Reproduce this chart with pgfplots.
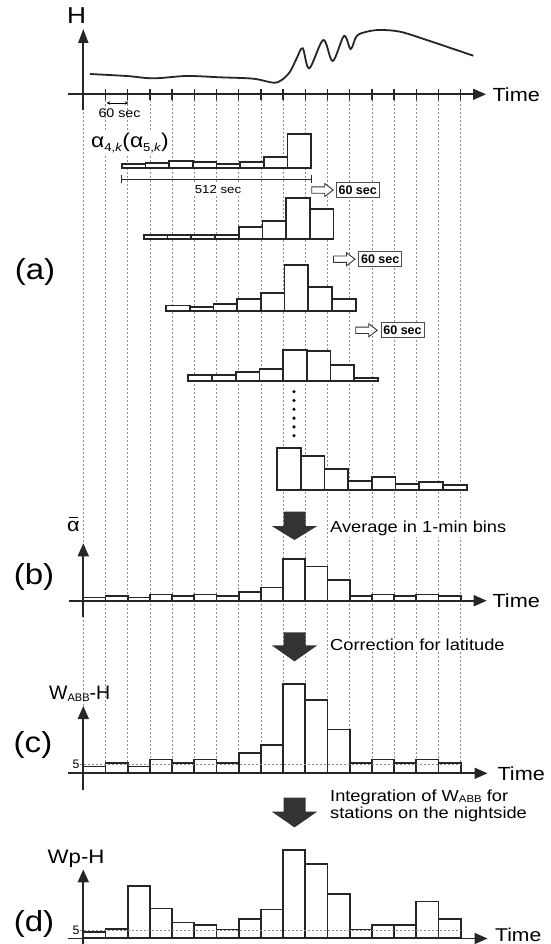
\documentclass[border=0pt]{standalone}
\usepackage{pgfplots}
\pgfplotsset{compat=1.18}
\usepackage{graphicx}
\usepackage{fontspec}
\setmainfont{Liberation Sans}
\usetikzlibrary{arrows.meta}

\newcommand{\fs}[1]{\fontsize{#1}{#1}\selectfont}
\newcommand{\sx}[1]{\scalebox{1.14}[1]{#1}}

\pgfplotsset{
  hist/.style={hide axis, x=1pt, y=1pt, anchor=south west, clip=false, ymin=0, enlargelimits=false},
  hb/.style={ybar interval, fill=white, draw=black!85, line width=1.7pt},
}
\tikzset{
  ax/.style={line width=1.8pt, black!85, -{Triangle[length=13pt,width=11pt]}},
}
\newcommand\blk[3]{\fill[black!80] (283.5,#1) -- (305.5,#1) -- (305.5,#2) -- (317.3,#2) -- (294.5,#3) -- (271.7,#2) -- (283.5,#2) -- cycle;}
\newcommand\harr[2]{\draw[line width=0.9pt, black!80, fill=white, line join=miter] (#1,{#2-3.2}) -- ({#1+13},{#2-3.2}) -- ({#1+13},{#2-6.5}) -- ({#1+21.5},#2) -- ({#1+13},{#2+6.5}) -- ({#1+13},{#2+3.2}) -- (#1,{#2+3.2}) -- cycle;}
\newcommand\secbox[2]{\node[draw=black!70, line width=0.9pt, fill=white, minimum width=43pt, minimum height=15pt, inner sep=0pt, font=\fs{12.5}\bfseries] at (#1,#2) {60 sec};}

\begin{document}
\begin{tikzpicture}
\path[use as bounding box] (0pt,0pt) rectangle (550pt,-944pt);

% vertical dashed guide lines
\begin{scope}[x=1pt,y=-1pt]
\foreach \k in {0,...,17}{\draw[black!45, dash pattern=on 2pt off 2pt, line width=0.6pt] ({83.3+22.2*\k},100) -- ({83.3+22.2*\k},773);}
\end{scope}

% main frame: H trace and dots
\begin{axis}[at={(0pt,0pt)}, anchor=north west, scale only axis, width=550pt, height=944pt,
  xmin=0, xmax=550, ymin=0, ymax=944, y dir=reverse, hide axis, clip=false]
\addplot[smooth, tension=0.55, line width=1.8pt, black!85] coordinates {
 (90,74) (126.7,76) (153.3,78.3) (186.7,76) (220,77.3) (253.3,78.7) (273.3,82.7) (281.7,80)
 (290,71.7) (296.7,58.3) (302.7,48.3) (309.3,68.3) (323.3,40) (332.7,61) (344,36) (350.7,49)
 (356.7,36) (366.7,31.7) (380,30) (400,31.7) (426.7,40) (473.3,55.7)};
\addplot[only marks, mark=*, mark size=1.4pt, black] coordinates {
 (294,391.7) (294,400.5) (294,409.3) (294,418.1) (294,426.9) (294,435.7)};
\end{axis}

% (a) running histograms
\begin{axis}[hist, at={(121.7pt,-167.7pt)}, xmin=121.7, xmax=311.3, ymax=36]
\addplot[hb] coordinates {(121.7,3.4)(145.4,5)(169.1,6.7)(192.8,5.4)(216.5,3.7)(240.2,5.4)(263.9,11)(287.6,33.4)(311.3,33.4)};
\end{axis}
\begin{axis}[hist, at={(143.9pt,-239pt)}, xmin=143.9, xmax=333.5, ymax=43]
\addplot[hb] coordinates {(143.9,4)(167.6,4)(191.3,4)(215,4)(238.7,11.7)(262.4,18)(286.1,40.7)(309.8,29.7)(333.5,29.7)};
\end{axis}
\begin{axis}[hist, at={(166.1pt,-310.7pt)}, xmin=166.1, xmax=355.7, ymax=48]
\addplot[hb] coordinates {(166.1,5.3)(189.8,3.4)(213.5,6.4)(237.2,11.7)(260.9,18)(284.6,45.7)(308.3,24)(332,11.4)(355.7,11.4)};
\end{axis}
\begin{axis}[hist, at={(188.3pt,-381pt)}, xmin=188.3, xmax=377.9, ymax=33]
\addplot[hb] coordinates {(188.3,6)(212,6)(235.7,9)(259.4,12.3)(283.1,31)(306.8,29.7)(330.5,16.3)(354.2,3)(377.9,3)};
\end{axis}
\begin{axis}[hist, at={(277.1pt,-490pt)}, xmin=277.1, xmax=466.7, ymax=44]
\addplot[hb] coordinates {(277.1,41.7)(300.8,34.3)(324.5,21)(348.2,9)(371.9,13.3)(395.6,5.7)(419.3,7.7)(443,5)(466.7,5)};
\end{axis}

% (b) averaged
\begin{axis}[hist, at={(83.3pt,-600.5pt)}, xmin=83.3, xmax=460.7, ymax=44]
\addplot[hb] coordinates {(83.3,3)(105.5,4.7)(127.7,3)(149.9,6)(172.1,4.3)(194.3,6)(216.5,4.3)(238.7,8.7)(260.9,13)(283.1,41.3)(305.3,34)(327.5,20.7)(349.7,4.3)(371.9,6)(394.1,4.3)(416.3,6)(438.5,4.3)(460.7,4.3)};
\end{axis}
% (c) W_ABB-H
\begin{axis}[hist, at={(83.3pt,-773pt)}, xmin=83.3, xmax=460.7, ymax=92]
\addplot[hb] coordinates {(83.3,6.5)(105.5,10)(127.7,6.5)(149.9,13.4)(172.1,10)(194.3,13.4)(216.5,10)(238.7,19.7)(260.9,27.8)(283.1,89)(305.3,73)(327.5,43.4)(349.7,10)(371.9,13.4)(394.1,10)(416.3,13.4)(438.5,10)(460.7,10)};
\end{axis}
% (d) Wp-H
\begin{axis}[hist, at={(83.3pt,-938.3pt)}, xmin=83.3, xmax=460.7, ymax=91]
\addplot[hb] coordinates {(83.3,6)(105.5,9.5)(127.7,52)(149.9,29.8)(172.1,15.8)(194.3,13)(216.5,8.8)(238.7,19)(260.9,28.8)(283.1,88.3)(305.3,74.3)(327.5,44.5)(349.7,8.8)(371.9,13)(394.1,13.6)(416.3,36.8)(438.5,19.3)(460.7,19.3)};
\end{axis}

\begin{scope}[x=1pt,y=-1pt]
% top panel axes
\draw[ax, -{Triangle[length=14pt,width=10pt]}] (83.3,110) -- (83.3,29);
\draw[ax] (68,94.3) -- (486,94.3);
\foreach \k in {1,...,17}{\draw[line width=1.4pt, black!85] ({83.3+22.2*\k},89) -- ({83.3+22.2*\k},100);}
\node[font=\fs{23}] at (76.7,15.7) {\sx{H}};
\node[anchor=west, font=\fs{19}] at (489,94.3) {\sx{Time}};
\draw[line width=0.8pt, {Stealth[length=3.5pt,width=3.5pt]}-{Stealth[length=3.5pt,width=3.5pt]}] (106.7,103) -- (128.3,103);
\node[font=\fs{12.5}] at (119.5,113) {\sx{60 sec}};

% (a) annotations
\node[anchor=west, font=\fs{20}, fill=white, inner sep=1pt] at (90,143) {\sx{α\raisebox{-0.22em}{\fs{11.5}4,\textit{k}}(α\raisebox{-0.22em}{\fs{11.5}5,\textit{k}})}};
\draw[line width=0.8pt, black!85] (121.7,179.3) -- (311.3,179.3);
\draw[line width=0.8pt, black!85] (121.7,175.5) -- (121.7,183);
\draw[line width=0.8pt, black!85] (311.3,175.5) -- (311.3,183);
\node[font=\fs{11.6}, fill=white, inner sep=1pt] at (218,189.5) {\sx{512 sec}};
\harr{311.7}{190}
\secbox{357.7}{189.8}
\harr{333.5}{259.2}
\secbox{380.2}{259.2}
\harr{355.7}{330.3}
\secbox{402.5}{330.3}
\node[font=\fs{29}] at (35,271.7) {\sx{(a)}};

% (b)
\blk{511.7}{526}{540}
\node[anchor=west, font=\fs{16}, fill=white, inner sep=1pt] at (329,528.3) {\sx{Average in 1-min bins}};
\draw[ax] (83.3,616.7) -- (83.3,543.3);
\draw[ax] (69.3,600.7) -- (486.7,600.7);
\node[anchor=west, font=\fs{19}] at (489,600.7) {\sx{Time}};
\node[font=\fs{19}] at (73.5,524) {\sx{\rlap{\hspace{0.07em}\raisebox{0.68em}{\rule{0.42em}{0.07em}}}α}};
\node[font=\fs{29}] at (34,576.7) {\sx{(b)}};

% (c)
\blk{632.3}{645.3}{661.4}
\node[anchor=west, font=\fs{16}, fill=white, inner sep=1pt] at (329,644.6) {\sx{Correction for latitude}};
\draw[black!45, dash pattern=on 2pt off 2pt, line width=0.8pt] (80,764.5) -- (460.7,764.5);
\draw[ax] (83.3,790) -- (83.3,706);
\draw[ax] (68.4,773.3) -- (487.5,773.3);
\node[anchor=west, font=\fs{19}] at (494,773.3) {\sx{Time}};
\node[font=\fs{12.3}] at (76,764.5) {5};
\node[anchor=base west, font=\fs{19.5}, inner sep=0pt] at (49,699) {W\raisebox{-0.12em}{\fs{11}ABB}-H};
\node[font=\fs{29}] at (33,744.5) {\sx{(c)}};

% (d)
\blk{797.5}{811.6}{827.4}
\node[anchor=base west, font=\fs{16}, fill=white, inner sep=1pt] at (329,801) {\sx{Integration of W\raisebox{-0.12em}{\fs{10}ABB} for}};
\node[anchor=base west, font=\fs{16}, fill=white, inner sep=1pt] at (329,818.5) {\sx{stations on the nightside}};
\draw[black!45, dash pattern=on 2pt off 2pt, line width=0.8pt] (80,930.1) -- (460.7,930.1);
\draw[ax] (83.3,946) -- (83.3,869.4);
\draw[ax] (68.4,938.5) -- (487.5,938.5);
\node[anchor=base west, font=\fs{18.5}, inner sep=0pt] at (495,941) {\sx{Time}};
\node[font=\fs{12.3}] at (76,930.3) {5};
\node[anchor=base west, font=\fs{19.5}, inner sep=0pt] at (47.5,863.5) {\sx{Wp-H}};
\node[font=\fs{29}] at (34,923.8) {\sx{(d)}};
\end{scope}
\end{tikzpicture}
\end{document}
